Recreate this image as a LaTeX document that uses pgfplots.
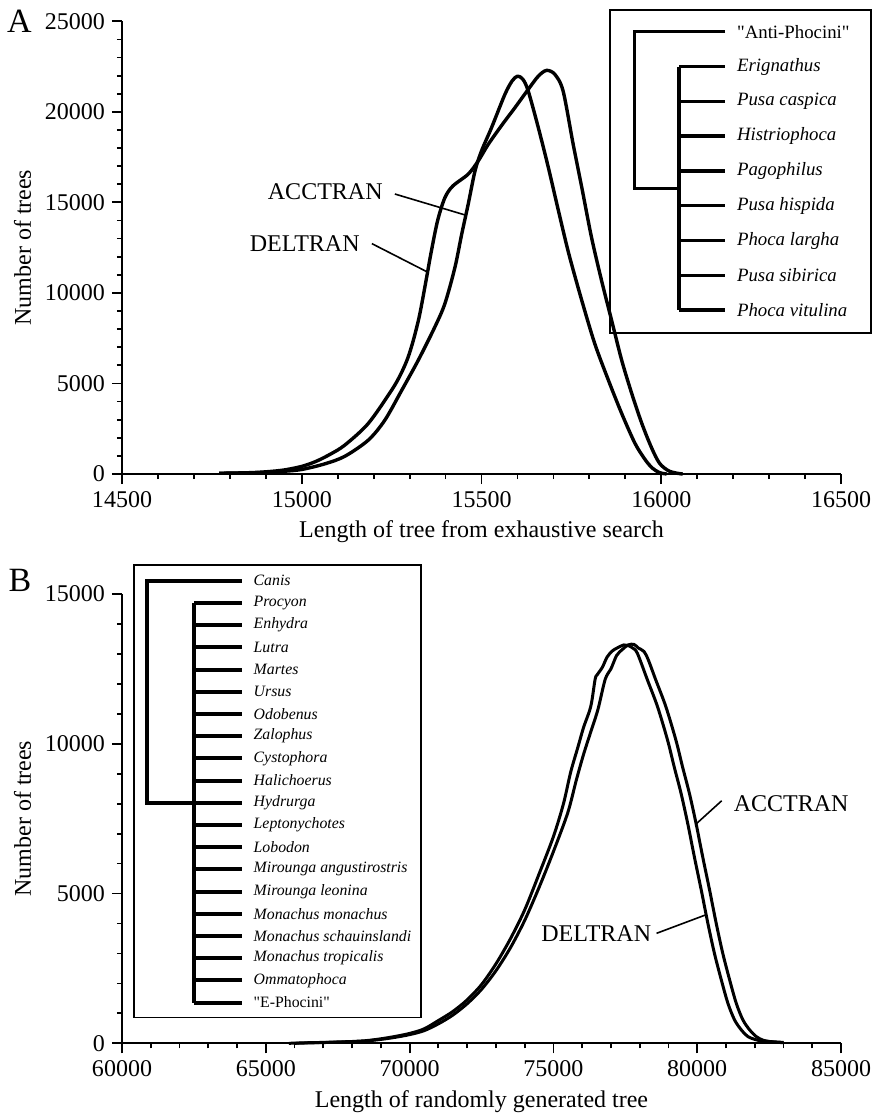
\documentclass[border=0pt]{standalone}
\usepackage{fontspec}
\setmainfont{Liberation Serif}[Ligatures=TeXOff]
\usepackage{pgfplots}
\pgfplotsset{compat=1.18}

\pgfplotsset{
  panel/.style={
    scale only axis,
    width=359.5pt,
    axis x line=bottom,
    axis y line=left,
    axis line style={-, line width=1pt},
    tick align=outside,
    major tick length=5pt,
    minor tick length=2.5pt,
    tick style={line width=0.9pt, black},
    minor x tick num=4,
    minor y tick num=4,
    scaled ticks=false,
    /pgf/number format/1000 sep={},
    /pgf/number format/assume math mode=true,
    tick label style={font=\fontsize{12}{14}\selectfont},
    label style={font=\fontsize{12}{14}\selectfont},
    clip=false,
  },
  curve/.style={line width=1.7pt, black, smooth, no marks, line join=round},
}
\tikzset{
  pin/.style={line width=0.8pt, black},
  lab/.style={font=\fontsize{12}{14}\selectfont, inner sep=0pt},
}

\begin{document}
\begin{tikzpicture}

% ---- A: exhaustive search
\begin{axis}[panel,
  at={(61pt,-237pt)}, anchor=south west, height=226.35pt,
  xmin=14500, xmax=16500, ymin=0, ymax=25000,
  xtick={14500,15000,...,16500}, ytick={0,5000,...,25000},
  xlabel={Length of tree from exhaustive search},
  ylabel={Number of trees},
]
% ACCTRAN
\addplot[curve] table {
14770 40
14850 60
14900 90
14950 150
15000 250
15064 560
15120 980
15185 1870
15231 2970
15278 4620
15324 6280
15370 8110
15398 9400
15426 11400
15445 13250
15463 14900
15482 16740
15500 17840
15528 19130
15565 20960
15585 21700
15600 21970
15615 21800
15630 21150
15658 19130
15686 16920
15714 14540
15743 12150
15779 9580
15815 7200
15853 5180
15890 3340
15927 1690
15955 800
15975 330
15995 80
16015 0
};
% DELTRAN
\addplot[curve] table {
14770 40
14850 70
14900 120
14950 220
15000 420
15040 700
15080 1100
15120 1600
15185 2790
15250 4630
15275 5500
15295 6400
15312 7500
15328 8800
15345 10600
15360 12250
15378 14000
15398 15250
15420 15900
15463 16560
15491 17290
15519 18210
15556 19250
15593 20230
15630 21240
15658 21970
15681 22290
15704 22070
15727 21150
15755 18210
15779 15820
15806 13070
15834 10680
15862 8480
15890 6280
15918 4440
15946 2790
15973 1450
15995 600
16020 180
16045 40
16060 0
};
\node[lab, anchor=east] at (axis cs:15226,15572) {ACCTRAN};
\draw[pin] (axis cs:15259,15462) -- (axis cs:15455,14300);
\node[lab, anchor=east] at (axis cs:15162,12723) {DELTRAN};
\draw[pin] (axis cs:15195,12723) -- (axis cs:15350,11150);
\end{axis}

% ---- B: randomly generated trees
\begin{axis}[panel,
  at={(61pt,-521.65pt)}, anchor=south west, height=224.65pt,
  xmin=60000, xmax=85000, ymin=0, ymax=15000,
  xtick={60000,65000,...,85000}, ytick={0,5000,...,15000},
  xlabel={Length of randomly generated tree},
  ylabel={Number of trees},
]
% DELTRAN
\addplot[curve, line width=1.5pt] table {
65800 0
66500 20
67000 30
67500 45
68000 60
68500 90
69000 150
69500 230
70000 330
70500 480
71000 760
71500 1060
72000 1450
72500 1960
73000 2650
73500 3480
74000 4450
74500 5650
75000 6900
75350 8000
75600 9050
75850 9880
76050 10550
76300 11250
76450 12150
76520 12300
76700 12550
76870 12900
77050 13100
77220 13200
77450 13300
77600 13280
77750 13200
77920 13020
78270 12130
78620 11240
78970 10120
79200 9230
79440 8340
79670 7340
79900 6230
80140 5120
80370 4010
80600 3000
80840 2110
81070 1330
81300 780
81540 440
81770 220
82120 100
82500 60
83000 30
};
% ACCTRAN
\addplot[curve, line width=1.5pt] table {
66000 0
66500 15
67000 25
67500 40
68000 55
68500 80
69000 130
69500 200
70000 290
70500 420
71000 650
71500 940
72000 1320
72500 1800
73000 2420
73500 3180
74000 4100
74500 5200
75000 6400
75500 7700
75800 8800
76050 9650
76300 10400
76550 11150
76800 12150
77000 12500
77200 12950
77400 13150
77600 13300
77800 13320
77950 13200
78150 13080
78300 12800
78560 12130
78910 11240
79260 10120
79490 9230
79730 8340
79960 7340
80190 6230
80430 5120
80660 4010
80890 3000
81130 2110
81360 1330
81590 780
81830 440
82060 220
82300 100
82600 50
83000 20
};
\node[lab, anchor=west] at (axis cs:81260,8011) {ACCTRAN};
\draw[pin] (axis cs:80852,8098) -- (axis cs:79970,7330);
\node[lab, anchor=east] at (axis cs:78411,3672) {DELTRAN};
\draw[pin] (axis cs:78586,3672) -- (axis cs:80330,4300);
\end{axis}

% ---- insets, panel letters (1 unit = 1 pixel of the reference)
\begin{scope}[x=0.5pt, y=-0.5pt]
\node[font=\fontsize{17}{19}\selectfont, inner sep=0pt] at (19.5,21) {A};
\node[font=\fontsize{17}{19}\selectfont, inner sep=0pt] at (20,580) {B};

% A inset
\draw[line width=0.8pt] (610,10) rectangle (870.7,333);
\begin{scope}[line width=1.75pt, line join=miter]
  \draw (725,31.7) -- (634.3,31.7) -- (634.3,188.3) -- (679,188.3);
  \draw (679,66.7) -- (679,310);
  \foreach \k in {1,...,8} \draw (679,31.7+34.8*\k) -- (725,31.7+34.8*\k);
\end{scope}
\begin{scope}[every node/.style={anchor=west, inner sep=0pt, font=\fontsize{9.4}{11}\selectfont\itshape}]
  \node[font=\fontsize{9.4}{11}\selectfont\upshape] at (736.7,31.7) {"Anti-Phocini"};
  \node at (736.7,66.5) {Erignathus};
  \node at (736.7,101.3) {Pusa caspica};
  \node at (736.7,136.1) {Histriophoca};
  \node at (736.7,170.9) {Pagophilus};
  \node at (736.7,205.7) {Pusa hispida};
  \node at (736.7,240.5) {Phoca largha};
  \node at (736.7,275.3) {Pusa sibirica};
  \node at (736.7,310.1) {Phoca vitulina};
\end{scope}

% B inset
\draw[line width=0.8pt] (134,565) rectangle (421,1017.5);
\begin{scope}[line width=2pt, line join=miter]
  \draw (241.7,580.7) -- (146.7,580.7) -- (146.7,802.7) -- (194,802.7);
  \draw (194,602.7) -- (194,1002.5);
  \foreach \k in {1,...,19} \draw (194,580.7+22.2*\k) -- (241.7,580.7+22.2*\k);
\end{scope}
\begin{scope}[every node/.style={anchor=west, inner sep=0pt, font=\fontsize{7.9}{9}\selectfont\itshape}]
  \node at (253.3,580.7) {Canis};
  \node at (253.3,602.9) {Procyon};
  \node at (253.3,625.1) {Enhydra};
  \node at (253.3,647.3) {Lutra};
  \node at (253.3,669.5) {Martes};
  \node at (253.3,691.7) {Ursus};
  \node at (253.3,713.9) {Odobenus};
  \node at (253.3,736.1) {Zalophus};
  \node at (253.3,758.3) {Cystophora};
  \node at (253.3,780.5) {Halichoerus};
  \node at (253.3,802.7) {Hydrurga};
  \node at (253.3,824.9) {Leptonychotes};
  \node at (253.3,847.1) {Lobodon};
  \node at (253.3,869.3) {Mirounga angustirostris};
  \node at (253.3,891.5) {Mirounga leonina};
  \node at (253.3,913.7) {Monachus monachus};
  \node at (253.3,935.9) {Monachus schauinslandi};
  \node at (253.3,958.1) {Monachus tropicalis};
  \node at (253.3,980.3) {Ommatophoca};
  \node[font=\fontsize{7.9}{9}\selectfont\upshape] at (253.3,1002.5) {"E-Phocini"};
\end{scope}
\end{scope}

\pgfresetboundingbox
\path[use as bounding box] (0,0) rectangle (437pt,-559pt);
\end{tikzpicture}
\end{document}
